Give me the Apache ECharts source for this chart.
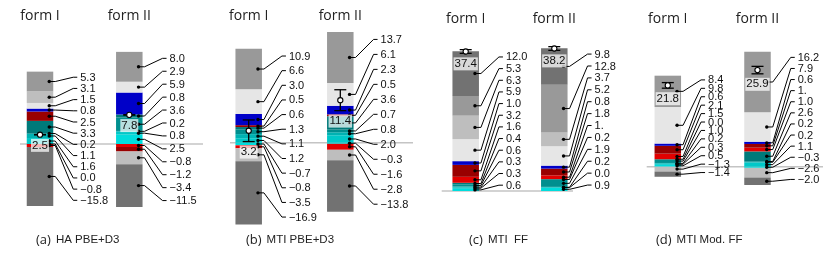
<!DOCTYPE html>
<html><head><meta charset="utf-8">
<script src="https://cdn.jsdelivr.net/npm/echarts@6/dist/echarts.min.js"></script>
<style>html,body{margin:0;padding:0;background:#fff}#c{width:831px;height:253px}</style>
</head><body><div id="c"></div>
<script>
// categories
const forms = ['form I', 'form II'];
// component order s1..s12 (stack order, bottom-up for positives)
const componentColors = ['#00dcdc','#00c8c8','#00b2b2','#008f8f','#007a7a','#e20000','#990000','#0000c8','#e6e6e6','#bebebe','#999999','#727272'];

// (a) HA PBE+D3
const haPbeFormI  = [0.0, 1.6, 1.1, 0.2, 3.3, -0.8, 2.5, 0.8, 1.5, 3.1, 5.3, -15.8];
const haPbeFormII = [2.5, 0.8, 0.2, 3.6, 0.8, -0.8, -1.2, 5.9, 2.9, -3.4, 8.0, -11.5];
// (b) MTI PBE+D3
const mtiPbeFormI  = [-0.7, 1.2, 1.1, 1.3, 0.6, -0.8, 0.5, 3.0, 6.6, -3.5, 10.9, -16.9];
const mtiPbeFormII = [-0.3, 2.0, 0.8, 0.7, 3.6, -1.6, 0.5, 2.3, 6.1, -2.8, 13.7, -13.8];
// (c) MTI FF
const mtiFfFormI  = [0.6, 0.3, 0.3, 0.6, 0.4, 1.6, 3.2, 1.0, 5.9, 6.3, 5.3, 12.0];
const mtiFfFormII = [0.9, 0.0, 0.2, 1.9, 0.2, 1.0, 1.8, 0.8, 5.2, 3.7, 12.8, 9.8];
// (d) MTI Mod. FF
const modFfFormI  = [0.5, 0.3, 0.2, 1.0, 0.0, 1.5, 2.1, 0.6, 9.8, -1.3, 8.4, -1.4];
const modFfFormII = [-0.3, 1.1, 0.2, 0.2, 2.6, 1.0, 1.0, 0.6, 7.9, -2.6, 16.2, -2.0];

// totals and their uncertainties
const totals = [[2.5, 7.8], [3.2, 11.4], [37.4, 38.2], [21.8, 25.9]];
const totalErrors = [[0.05, 0.05], [2.9, 2.8], [0.5, 0.5], [0.75, 1.0]];
// captions
const captionTags = ['(a)', '(b)', '(c)', '(d)'];
const captionTexts = ['HA PBE+D3', 'MTI PBE+D3', 'MTI  FF', 'MTI Mod. FF'];
// label text overrides (as printed)
const labelOverrides = [[{}, {}], [{}, {}], [{}, {5: '1.'}], [{}, {6: '1.'}]];

const panelValues = [
  [haPbeFormI, haPbeFormII],
  [mtiPbeFormI, mtiPbeFormII],
  [mtiFfFormI, mtiFfFormII],
  [modFfFormI, modFfFormII]
];

// layout (pixels)
const PX_PER_UNIT = 3.73;
const BAR_W = 26.5;
const layout = [
  {base: 144.0, c1: 40.0, c2: 129.3, min: -25, max: 35, lx0: 20, lx1: 203, titleY: 16, capX: 36},
  {base: 142.7, c1: 248.7, c2: 340.3, min: -25, max: 35, lx0: 230, lx1: 413, titleY: 16.5, capX: 246},
  {base: 191.0, c1: 465.7, c2: 554.3, min: -5, max: 45, lx0: 441.7, lx1: 573, titleY: 19, capX: 469},
  {base: 166.7, c1: 667.8, c2: 757.5, min: -10, max: 40, lx0: 646.7, lx1: 823, titleY: 19.5, capX: 656}
];

function fmt(v) { return (v < 0 ? '\u2212' : '') + Math.abs(v).toFixed(1); }

const grids = [], xAxes = [], yAxes = [], series = [], titles = [];
layout.forEach((L, pi) => {
  const top = L.base - L.max * PX_PER_UNIT;
  const height = (L.max - L.min) * PX_PER_UNIT;
  grids.push({left: L.c1, width: L.c2 - L.c1, top: top, height: height});
  xAxes.push({type: 'category', gridIndex: pi, data: forms, boundaryGap: false, position: 'top',
    offset: top - L.titleY, axisLine: {show: false}, axisTick: {show: false},
    axisLabel: {margin: 0, verticalAlign: 'middle', fontSize: 14, fontFamily: 'Open Sans', color: '#222'}});
  yAxes.push({type: 'value', gridIndex: pi, min: L.min, max: L.max, show: false});

  // baseline
  series.push({type: 'custom', xAxisIndex: pi, yAxisIndex: pi, z: 1, silent: true,
    data: [[0, 0]],
    renderItem: function (params, api) {
      const y = api.coord([0, 0])[1];
      return {type: 'line', shape: {x1: L.lx0, y1: y, x2: L.lx1, y2: y}, style: {stroke: '#c4c4c4', lineWidth: 1.6}};
    }});

  for (let k = 0; k < componentColors.length; k++) {
    series.push({type: 'bar', xAxisIndex: pi, yAxisIndex: pi, stack: 'p' + pi, barWidth: BAR_W, z: 2,
      data: [panelValues[pi][0][k], panelValues[pi][1][k]],
      itemStyle: {color: componentColors[k]}, silent: true});
  }

  // annotations
  series.push({type: 'custom', xAxisIndex: pi, yAxisIndex: pi, z: 5, silent: true,
    data: [[0, 0], [1, 0]],
    renderItem: function (params, api) {
      const ci = api.value(0);
      const vals = panelValues[pi][ci];
      const n = vals.length;
      let pos = 0, neg = 0;
      const posSegs = [], negSegs = [];
      vals.forEach((v, k) => {
        if (v >= 0) { posSegs.push({k: k, v: v, mid: pos + v / 2}); pos += v; }
        else { negSegs.push({k: k, v: v, mid: neg + v / 2}); neg += v; }
      });
      posSegs.reverse();
      const ordered = posSegs.concat(negSegs);
      const cx = api.coord([ci, 0])[0];
      const right = cx + BAR_W / 2;
      const topPx = api.coord([ci, pos])[1];
      const botPx = api.coord([ci, neg])[1];
      const step = (botPx - topPx) / n;
      const children = [];
      ordered.forEach((s, i) => {
        const my = api.coord([ci, s.mid])[1];
        const ly = topPx + (i + 0.5) * step;
        const dx = right - 4;
        children.push({type: 'polyline', shape: {points: [[dx, my], [right + 2, my], [right + 20, ly], [right + 24, ly]]},
          style: {stroke: '#000', lineWidth: 1, fill: null}});
        children.push({type: 'circle', shape: {cx: dx, cy: my, r: 1.7}, style: {fill: '#000'}});
        const txt = labelOverrides[pi][ci][s.k] !== undefined ? labelOverrides[pi][ci][s.k] : fmt(s.v);
        children.push({type: 'text', x: right + 27, y: ly + 0.5,
          style: {text: txt, fill: '#111', font: '11px "Liberation Sans", Arial, sans-serif', align: 'left', verticalAlign: 'middle'}});
      });
      // total with error bar
      const t = totals[pi][ci], e = totalErrors[pi][ci];
      const ty = api.coord([ci, t])[1];
      const eTop = api.coord([ci, t + e])[1];
      const eBot = api.coord([ci, t - e])[1];
      children.push({type: 'line', shape: {x1: cx, y1: eTop, x2: cx, y2: eBot}, style: {stroke: '#000', lineWidth: 1.3}});
      children.push({type: 'line', shape: {x1: cx - 6, y1: eTop, x2: cx + 6, y2: eTop}, style: {stroke: '#000', lineWidth: 1.3}});
      children.push({type: 'line', shape: {x1: cx - 6, y1: eBot, x2: cx + 6, y2: eBot}, style: {stroke: '#000', lineWidth: 1.3}});
      children.push({type: 'circle', shape: {cx: cx, cy: ty, r: 2.6}, style: {fill: '#fff', stroke: '#000', lineWidth: 1.1}});
      children.push({type: 'text', x: cx, y: eBot + 10.5,
        style: {text: t.toFixed(1), fill: '#111', font: '11.5px "Liberation Sans", Arial, sans-serif', align: 'center', verticalAlign: 'middle',
          backgroundColor: 'rgba(255,255,255,0.72)', padding: [1, 1, 0, 1]}});
      return {type: 'group', children: children};
    }});

  titles.push({left: L.capX, top: 231, padding: 0,
    text: '{p|' + captionTags[pi] + '} {t|' + captionTexts[pi] + '}',
    textStyle: {fontWeight: 'normal', rich: {
      p: {fontFamily: 'Open Sans', fontSize: 13, fontWeight: 'normal', color: '#222', verticalAlign: 'middle'},
      t: {fontFamily: 'Liberation Sans', fontSize: 11.5, fontWeight: 'normal', color: '#222', verticalAlign: 'middle'}
    }}});
});

const chart = echarts.init(document.getElementById('c'), null, {renderer: 'canvas'});
chart.setOption({
  backgroundColor: '#fff',
  animation: false,
  title: titles,
  grid: grids,
  xAxis: xAxes,
  yAxis: yAxes,
  series: series
});
</script>
</body></html>
